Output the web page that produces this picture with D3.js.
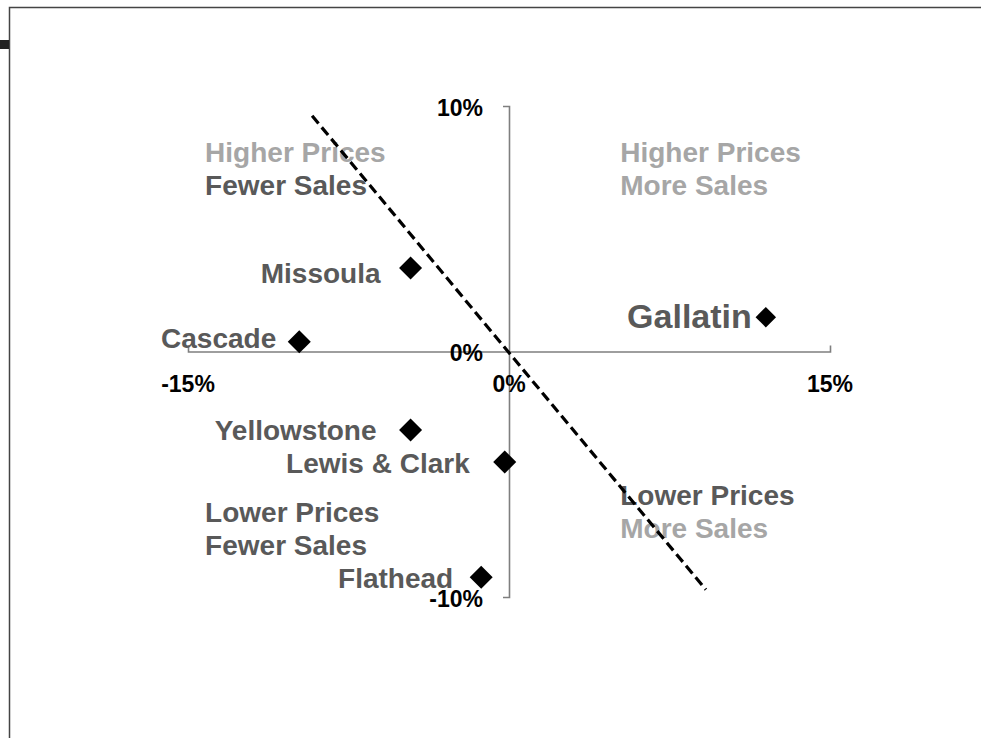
<!DOCTYPE html>
<html>
<head>
<meta charset="utf-8">
<script src="https://cdn.jsdelivr.net/npm/d3@7"></script>
<style>
  body { margin: 0; background: #fff; }
  svg { display: block; font-family: "Liberation Sans", Arial, sans-serif; }
</style>
</head>
<body>
<svg id="chart" width="981" height="738"></svg>
<script>
// County data: change in sales (x) vs change in prices (y), in percent
const counties = ["Missoula", "Cascade", "Gallatin", "Yellowstone", "Lewis & Clark", "Flathead"];
const salesChange = [-4.6, -9.8, 12.0, -4.6, -0.2, -1.3];
const priceChange = [3.4, 0.4, 1.4, -3.2, -4.5, -9.2];

// dashed trend line end points (data units)
const trendX = [-9.2, 9.2];
const trendY = [9.6, -9.7];

// axis ticks
const xTicks = [-15, 0, 15];
const yTicks = [10, 0, -10];

// quadrant notes
const quadText = [
    ["Higher Prices", "Fewer Sales"],
    ["Higher Prices", "More Sales"],
    ["Lower Prices", "Fewer Sales"],
    ["Lower Prices", "More Sales"]
];
const quadX = [-14.2, 5.2, -14.2, 5.2];
const quadY = [7.7, 7.7, -6.95, -6.25];

const light = "#a6a6a6", dark = "#595959";
const quadColors = [[light, dark], [light, light], [dark, dark], [dark, light]];

// label placement tweaks (px) so labels sit as in the original
const labelDx = { "Missoula": 30, "Cascade": 23, "Gallatin": 14, "Yellowstone": 34, "Lewis & Clark": 35, "Flathead": 28 };
const labelDy = { "Missoula": 5, "Cascade": -4, "Gallatin": -1, "Yellowstone": 0, "Lewis & Clark": 1, "Flathead": 1 };

const svg = d3.select("#chart");

// frame
svg.append("path")
    .attr("d", "M9.5,738 V7.5 H981")
    .attr("fill", "none")
    .attr("stroke", "#444")
    .attr("stroke-width", 1.5);
svg.append("rect")
    .attr("x", 0).attr("y", 40).attr("width", 9).attr("height", 9)
    .attr("fill", "#222");

const x = d3.scaleLinear().domain([-15, 15]).range([188, 830]);
const y = d3.scaleLinear().domain([-10, 10]).range([597, 106]);

// x axis through y = 0, end ticks pointing up
const xAxis = svg.append("g")
    .attr("transform", `translate(0,${y(0)})`)
    .call(d3.axisTop(x).tickValues([]).tickSizeOuter(6));

// y axis through x = 0, end ticks to the left
const yAxis = svg.append("g")
    .attr("transform", `translate(${x(0)},0)`)
    .call(d3.axisLeft(y).tickValues(yTicks).tickSizeInner(0).tickSizeOuter(6)
        .tickPadding(26).tickFormat(d => d + "%"));

[xAxis, yAxis].forEach(g => {
    g.select(".domain").attr("stroke", "#7f7f7f").attr("stroke-width", 1.6);
    g.selectAll(".tick line").remove();
});
yAxis.selectAll(".tick text")
    .attr("dy", "0.4em")
    .attr("fill", "#000")
    .attr("font-size", 23)
    .attr("font-weight", "bold")
    .attr("font-family", "Liberation Sans, Arial, sans-serif");

svg.append("g").selectAll("text")
    .data(xTicks)
    .join("text")
    .attr("x", d => x(d))
    .attr("y", y(0) + 40)
    .attr("text-anchor", "middle")
    .attr("font-size", 23)
    .attr("font-weight", "bold")
    .text(d => d + "%");

// quadrant notes
quadText.forEach((lines, i) => {
    svg.append("text")
        .attr("x", x(quadX[i]))
        .attr("y", y(quadY[i]))
        .attr("font-size", 28)
        .attr("font-weight", "bold")
        .selectAll("tspan")
        .data(lines)
        .join("tspan")
        .attr("x", x(quadX[i]))
        .attr("dy", (d, j) => j === 0 ? 0 : 33)
        .attr("fill", (d, j) => quadColors[i][j])
        .text(d => d);
});

// trend line
svg.append("line")
    .attr("x1", x(trendX[0])).attr("y1", y(trendY[0]))
    .attr("x2", x(trendX[1])).attr("y2", y(trendY[1]))
    .attr("stroke", "#000")
    .attr("stroke-width", 3.2)
    .attr("stroke-dasharray", "10,5");

// points
const pts = counties.map((name, i) => ({ name, sx: salesChange[i], py: priceChange[i] }));

const diamond = d3.symbol().type(d3.symbolSquare);

svg.append("g").selectAll("path")
    .data(pts)
    .join("path")
    .attr("d", d => diamond.size(d.name === "Gallatin" ? 210 : 265)())
    .attr("transform", d => `translate(${x(d.sx)},${y(d.py)}) rotate(45)`)
    .attr("fill", "#000");

svg.append("g").selectAll("text")
    .data(pts)
    .join("text")
    .attr("x", d => x(d.sx) - labelDx[d.name])
    .attr("y", d => y(d.py) + labelDy[d.name])
    .attr("dy", "0.36em")
    .attr("text-anchor", "end")
    .attr("font-size", d => d.name === "Gallatin" ? 34 : 28)
    .attr("font-weight", "bold")
    .attr("fill", dark)
    .text(d => d.name);
</script>
</body>
</html>
